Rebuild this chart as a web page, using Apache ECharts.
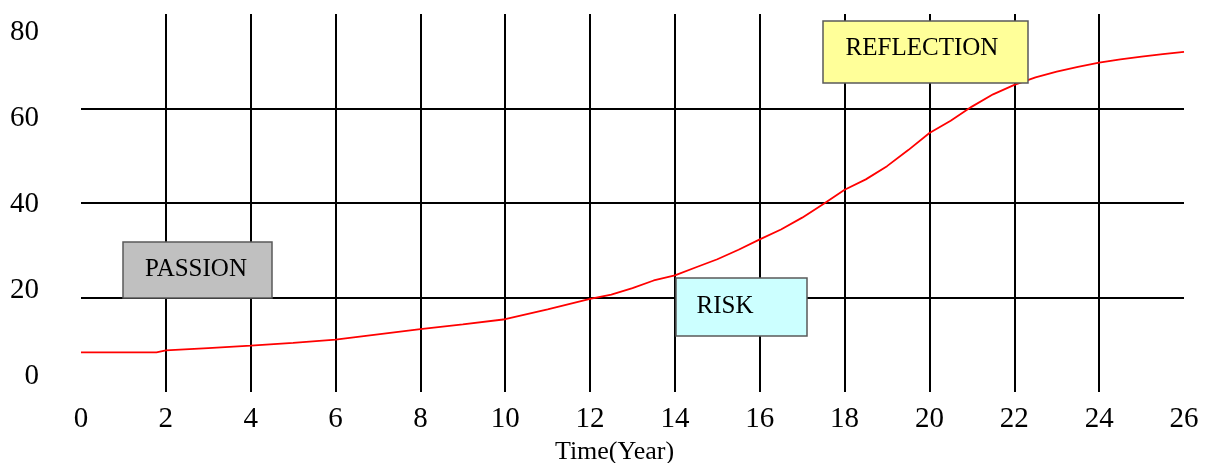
<!DOCTYPE html>
<html>
<head>
<meta charset="utf-8">
<script src="https://cdn.jsdelivr.net/npm/echarts@6/dist/echarts.min.js"></script>
<style>
  html, body { margin: 0; padding: 0; background: #fff; }
  #chart { width: 1206px; height: 463px; }
</style>
</head>
<body>
<div id="chart"></div>
<script>
// ---- data ----
const timeYears = [0, 1, 1.78, 1.8, 2, 3, 4, 5, 6, 7, 8, 9, 10, 11, 12, 12.5, 13, 13.5, 14, 14.5, 15, 15.5, 16, 16.5, 17, 17.5, 18, 18.5, 19, 19.5, 20, 20.5, 21, 21.5, 22, 22.5, 23, 23.5, 24, 24.5, 25, 25.5, 26];
const seriesValues = [8.4, 8.4, 8.4, 8.8, 8.8, 9.3, 9.8, 10.4, 11.1, 12.2, 13.3, 14.3, 15.4, 17.5, 19.7, 20.6, 22.0, 23.6, 24.7, 26.4, 28.1, 30.1, 32.3, 34.4, 36.9, 39.8, 42.8, 45.0, 47.8, 51.2, 54.8, 57.4, 60.4, 63.0, 65.0, 66.6, 67.8, 68.8, 69.7, 70.4, 71.0, 71.5, 72.0];
const yTickLabels = [0, 20, 40, 60, 80];
const xAxisTitle = 'Time(Year)';
const phaseLabels = ['PASSION', 'RISK', 'REFLECTION'];

const FONT = "'Liberation Serif', 'Times New Roman', serif";
const lineData = timeYears.map((t, i) => [t, seriesValues[i]]);

const chart = echarts.init(document.getElementById('chart'), null, { renderer: 'canvas' });

function box(x, y, w, h, fill, label, tx, ty) {
  return [
    { type: 'rect', z: 100, shape: { x: x, y: y, width: w, height: h },
      style: { fill: fill, stroke: '#5a5a5a', lineWidth: 1.5 } },
    { type: 'text', z: 101, x: tx, y: ty,
      style: { text: label, fill: '#000', font: '25px ' + FONT, align: 'center', verticalAlign: 'middle' } }
  ];
}

const option = {
  animation: false,
  backgroundColor: '#fff',
  grid: { left: 81, right: 22, top: 14, bottom: 71, containLabel: false, outerBoundsMode: 'none' },
  xAxis: {
    type: 'value', min: 0, max: 26, interval: 2,
    axisLine: { show: false }, axisTick: { show: false },
    axisLabel: { color: '#000', fontSize: 29, fontFamily: FONT, margin: 13 },
    splitLine: { show: true, showMinLine: false, showMaxLine: false, lineStyle: { color: '#000', width: 2 } },
    name: xAxisTitle, nameLocation: 'middle', nameGap: 42,
    nameTextStyle: { color: '#000', fontSize: 26, fontFamily: FONT, padding: [0, 36, 0, 0] }
  },
  yAxis: [
    {
      type: 'value', min: 0, max: 80, interval: 20,
      axisLine: { show: false }, axisTick: { show: false }, axisLabel: { show: false },
      splitLine: { show: true, showMinLine: false, showMaxLine: false, lineStyle: { color: '#000', width: 2 } }
    },
    {
      type: 'value', position: 'left', min: -3.68, max: 84.32,
      axisLine: { show: false }, axisTick: { show: false }, splitLine: { show: false },
      axisLabel: { customValues: yTickLabels, color: '#000', fontSize: 29, fontFamily: FONT, margin: 42 }
    }
  ],
  series: [{
    type: 'line', xAxisIndex: 0, yAxisIndex: 0,
    data: lineData, showSymbol: false, symbol: 'none',
    lineStyle: { color: '#ff0000', width: 1.8 }, z: 5
  }],
  graphic: [].concat(
    box(123, 242, 149, 56, '#c0c0c0', phaseLabels[0], 196, 269),
    box(676, 278, 131, 58, '#ccffff', phaseLabels[1], 725, 306),
    box(823, 21, 205, 62, '#ffff99', phaseLabels[2], 922, 48)
  )
};
chart.setOption(option);
</script>
</body>
</html>
